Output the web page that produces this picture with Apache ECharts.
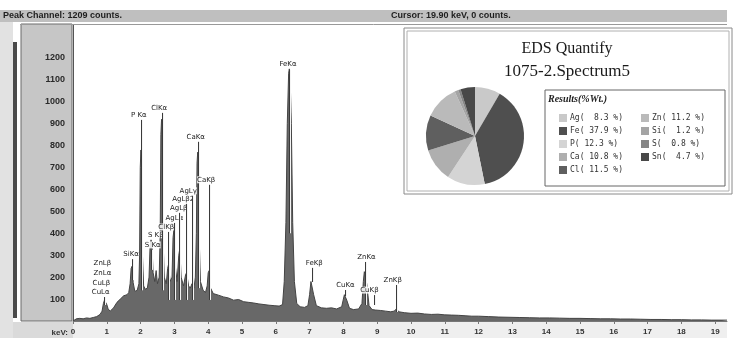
<!DOCTYPE html>
<html>
<head>
<meta charset="utf-8">
<script src="https://cdn.jsdelivr.net/npm/echarts@6/dist/echarts.min.js"></script>
<style>
  html, body { margin: 0; padding: 0; background: #fff; }
  #chart { width: 736px; height: 338px; }
</style>
</head>
<body>
<div id="chart"></div>
<script>
// EDS spectrum: [keV, counts]
const spectrum = [
  [0.0, 0], [0.05, 5], [0.1, 10], [0.2, 12], [0.3, 10], [0.4, 14], [0.5, 12], [0.6, 16],
  [0.7, 20], [0.8, 30], [0.86, 45], [0.9, 80], [0.93, 95], [0.97, 90], [1.0, 75], [1.04, 55],
  [1.1, 45], [1.2, 60], [1.3, 85], [1.4, 100], [1.5, 115], [1.6, 120], [1.65, 130],
  [1.69, 170], [1.72, 240], [1.75, 250], [1.78, 175], [1.83, 135], [1.9, 140],
  [1.95, 170], [1.97, 300], [1.99, 700], [2.01, 780], [2.03, 720], [2.05, 320], [2.09, 160],
  [2.14, 145], [2.2, 150],
  [2.25, 200], [2.28, 340], [2.31, 370], [2.34, 330], [2.37, 220], [2.42, 180], [2.46, 230],
  [2.5, 170], [2.55, 200],
  [2.58, 400], [2.60, 850], [2.62, 920], [2.64, 860], [2.66, 400], [2.7, 200], [2.76, 170],
  [2.8, 240], [2.83, 260], [2.87, 180], [2.93, 200],
  [2.96, 380], [2.99, 420], [3.02, 260], [3.08, 180],
  [3.13, 300], [3.16, 330], [3.2, 200], [3.27, 160],
  [3.33, 210], [3.36, 220], [3.42, 160], [3.47, 150],
  [3.52, 170], [3.58, 150], [3.62, 200],
  [3.65, 400], [3.67, 720], [3.69, 770], [3.71, 720], [3.73, 400], [3.77, 180], [3.85, 140], [3.92, 130],
  [3.97, 160], [4.0, 220], [4.03, 230], [4.07, 150], [4.15, 125], [4.3, 118], [4.45, 110], [4.6, 105],
  [4.75, 95], [4.9, 98], [5.05, 88], [5.2, 85], [5.35, 82], [5.5, 78], [5.65, 75], [5.8, 72],
  [5.95, 70], [6.1, 68], [6.2, 75],
  [6.25, 180], [6.3, 450], [6.34, 900], [6.38, 1130], [6.40, 1150], [6.42, 1130], [6.46, 900],
  [6.5, 450], [6.55, 180], [6.62, 80], [6.72, 65], [6.85, 62], [6.95, 70],
  [7.0, 120], [7.04, 180], [7.07, 185], [7.12, 120], [7.2, 70], [7.35, 60], [7.5, 58], [7.65, 60],
  [7.8, 55], [7.95, 65],
  [8.0, 100], [8.03, 120], [8.06, 125], [8.1, 95], [8.18, 58], [8.3, 52], [8.45, 55], [8.55, 80],
  [8.59, 180], [8.62, 225], [8.65, 230], [8.69, 170], [8.76, 70], [8.85, 52], [8.9, 60], [8.95, 50],
  [9.1, 48], [9.25, 45], [9.4, 42], [9.5, 45], [9.57, 55], [9.64, 42], [9.8, 38], [10.0, 35],
  [10.2, 36], [10.4, 32], [10.6, 30], [10.8, 31], [11.0, 28], [11.2, 27], [11.4, 26], [11.6, 24],
  [11.8, 22], [12.0, 22], [12.3, 20], [12.6, 18], [12.9, 17], [13.2, 16], [13.5, 15], [13.8, 14],
  [14.1, 14], [14.4, 13], [14.7, 12], [15.0, 12], [15.3, 11], [15.6, 10], [15.9, 10], [16.2, 9],
  [16.5, 9], [16.8, 8], [17.1, 7], [17.4, 7], [17.7, 6], [18.0, 6], [18.3, 5], [18.6, 5],
  [18.9, 4], [19.2, 4], [19.35, 4]
];

// peak markers: name, line energy, label anchor (keV / counts), line bottom (counts)
const markerNames  = ['CuLα', 'CuLβ', 'ZnLα', 'ZnLβ', 'SiKα', 'S Kα', 'S Kβ', 'P Kα', 'ClKα', 'ClKβ',
                      'AgLα', 'AgLβ', 'AgLβ2', 'AgLγ', 'CaKα', 'CaKβ', 'FeKα', 'FeKβ', 'CuKα', 'ZnKα', 'CuKβ', 'ZnKβ'];
const markerKeV    = [0.93, 0.95, 1.01, 1.03, 1.74, 2.31, 2.46, 2.01, 2.62, 2.82,
                      2.98, 3.15, 3.35, 3.52, 3.69, 4.01, 6.40, 7.06, 8.04, 8.63, 8.90, 9.57];
const markerLabelKeV = [0.82, 0.84, 0.87, 0.87, 1.72, 2.36, 2.45, 1.95, 2.55, 2.76,
                      3.00, 3.13, 3.26, 3.41, 3.63, 3.94, 6.36, 7.14, 8.06, 8.68, 8.77, 9.46];
const markerTop    = [132, 174, 218, 265, 305, 347, 393, 940, 972, 429,
                      470, 516, 557, 594, 840, 644, 1169, 265, 164, 292, 141, 187];
const markerBottom = [73, 174, 218, 265, 187, 233, 393, 140, 140, 96,
                      96, 96, 96, 96, 150, 96, 400, 178, 114, 73, 73, 41];

// quantification (% wt.)
const elements = ['Ag', 'Fe', 'P', 'Ca', 'Cl', 'Zn', 'Si', 'S', 'Sn'];
const weightPct = [8.3, 37.9, 12.3, 10.8, 11.5, 11.2, 1.2, 0.8, 4.7];
const sliceColors = ['#c9c9c9', '#4f4f4f', '#d4d4d4', '#afafaf', '#5f5f5f', '#bababa', '#a4a4a4', '#858585', '#484848'];

const xTicks = [0, 1, 2, 3, 4, 5, 6, 7, 8, 9, 10, 11, 12, 13, 14, 15, 16, 17, 18, 19];
const yTicks = [100, 200, 300, 400, 500, 600, 700, 800, 900, 1000, 1100, 1200];

const chart = echarts.init(document.getElementById('chart'), null, { renderer: 'canvas' });

const pctText = (name) => {
  const v = weightPct[elements.indexOf(name)].toFixed(1);
  return name + '(' + (v.length < 4 ? '  ' : ' ') + v + ' %)';
};

const legendBase = {
  orient: 'vertical',
  itemWidth: 8,
  itemHeight: 8,
  itemGap: 5,
  icon: 'rect',
  selectedMode: false,
  z: 30,
  textStyle: { fontFamily: 'DejaVu Sans Mono', fontSize: 8, color: '#333', padding: [0, 0, 0, -2] },
  formatter: pctText
};

const option = {
  animation: false,
  backgroundColor: '#fff',
  grid: { left: 73, right: 9, top: 25, bottom: 17, show: false },
  xAxis: {
    type: 'value', min: 0, max: 19.35,
    axisLine: { lineStyle: { color: '#777', width: 1 } },
    axisTick: { length: 3, customValues: xTicks, lineStyle: { color: '#777' } },
    axisLabel: {
      customValues: xTicks, margin: 7, color: '#333',
      fontFamily: 'Liberation Sans', fontWeight: 'bold', fontSize: 8
    },
    splitLine: { show: false }
  },
  yAxis: {
    type: 'value', min: 0, max: 1350,
    axisLine: { show: true, lineStyle: { color: '#555', width: 1 } },
    axisTick: { show: false },
    axisLabel: {
      customValues: yTicks, margin: 8, color: '#2a2a2a',
      fontFamily: 'Liberation Sans', fontWeight: 'bold', fontSize: 9,
      formatter: (v) => String(v)
    },
    splitLine: { show: false }
  },
  legend: [
    Object.assign({}, legendBase, { left: 554, top: 109, data: elements.slice(0, 5) }),
    Object.assign({}, legendBase, { left: 636, top: 109, data: elements.slice(5) })
  ],
  graphic: [
    // status bar
    { type: 'rect', shape: { x: 0, y: 10, width: 727, height: 12 }, style: { fill: '#bfbfbf' }, z: 0 },
    { type: 'text', style: { x: 3, y: 16, text: 'Peak Channel: 1209 counts.', verticalAlign: 'middle',
      font: 'bold 9px "Liberation Sans"', fill: '#1e1e1e' }, z: 1 },
    { type: 'text', style: { x: 391, y: 16, text: 'Cursor: 19.90 keV, 0 counts.', verticalAlign: 'middle',
      font: 'bold 9px "Liberation Sans"', fill: '#1e1e1e' }, z: 1 },
    { type: 'line', shape: { x1: 20, y1: 24.5, x2: 727, y2: 24.5 }, style: { stroke: '#999', lineWidth: 1 }, z: 1 },
    // left panel
    { type: 'rect', shape: { x: 0, y: 22, width: 13, height: 316 }, style: { fill: '#e2e2e2' }, z: 0 },
    { type: 'rect', shape: { x: 13, y: 42, width: 4, height: 276 }, style: { fill: '#4a4a4a' }, z: 0 },
    { type: 'rect', shape: { x: 21, y: 24, width: 51, height: 297 }, style: { fill: '#c6c6c6', stroke: '#6a6a6a', lineWidth: 1 }, z: 0 },
    { type: 'rect', shape: { x: 13, y: 322, width: 60, height: 16 }, style: { fill: '#dadada' }, z: 0 },
    { type: 'rect', shape: { x: 73, y: 322, width: 654, height: 16 }, style: { fill: '#efefef' }, z: 0 },
    { type: 'text', style: { x: 68, y: 333, text: 'keV:', align: 'right', verticalAlign: 'middle',
      font: 'bold 8px "Liberation Sans"', fill: '#333' }, z: 1 },
    // inset frame
    { type: 'rect', shape: { x: 404, y: 28, width: 328, height: 166 }, style: { fill: '#fff', stroke: '#8a8a8a', lineWidth: 1 }, z: 10 },
    { type: 'rect', shape: { x: 407, y: 31, width: 322, height: 160 }, style: { fill: 'none', stroke: '#b0b0b0', lineWidth: 1 }, z: 10 },
    { type: 'text', style: { x: 567, y: 49, text: 'EDS Quantify', align: 'center', verticalAlign: 'middle',
      font: '16px "Liberation Serif"', fill: '#1a1a1a' }, z: 30 },
    { type: 'text', style: { x: 567, y: 72, text: '1075-2.Spectrum5', align: 'center', verticalAlign: 'middle',
      font: '17px "Liberation Serif"', fill: '#1a1a1a' }, z: 30 },
    { type: 'rect', shape: { x: 545, y: 90, width: 180, height: 96 }, style: { fill: '#fff', stroke: '#666', lineWidth: 1 }, z: 20 },
    { type: 'text', style: { x: 548, y: 99, text: 'Results(%Wt.)', verticalAlign: 'middle',
      font: 'bold italic 10px "Liberation Serif"', fill: '#222' }, z: 30 }
  ],
  series: [
    {
      name: 'spectrum',
      type: 'line',
      data: spectrum,
      symbol: 'none',
      lineStyle: { color: '#444', width: 1 },
      areaStyle: { color: '#686868', opacity: 1 },
      z: 3
    },
    {
      name: 'markers',
      type: 'custom',
      data: markerKeV.map((k, i) => [k, markerTop[i], markerBottom[i], i]),
      renderItem: (params, api) => {
        const i = api.value(3);
        const top = api.coord([api.value(0), api.value(1)]);
        const bot = api.coord([api.value(0), api.value(2)]);
        const lab = api.coord([markerLabelKeV[i], api.value(1)]);
        const x = Math.round(top[0]) + 0.5;
        const children = [];
        if (bot[1] - top[1] > 6) {
          children.push({ type: 'line', shape: { x1: x + 1, y1: top[1] + 5, x2: x + 1, y2: bot[1] },
            style: { stroke: '#f4f4f4', lineWidth: 1 } });
          children.push({ type: 'line', shape: { x1: x, y1: top[1] + 5, x2: x, y2: bot[1] },
            style: { stroke: '#3a3a3a', lineWidth: 1 } });
        }
        children.push({ type: 'text', style: { x: lab[0], y: lab[1], text: markerNames[i],
          align: 'center', verticalAlign: 'middle', font: '7px "DejaVu Sans"', fill: '#222',
          backgroundColor: 'rgba(255,255,255,0.85)' } });
        return { type: 'group', children: children };
      },
      z: 5
    },
    {
      name: 'quant',
      type: 'pie',
      center: [475, 136],
      radius: 49,
      startAngle: 90,
      clockwise: true,
      label: { show: false },
      labelLine: { show: false },
      emphasis: { disabled: true },
      itemStyle: { borderWidth: 0 },
      data: elements.map((e, i) => ({ name: e, value: weightPct[i], itemStyle: { color: sliceColors[i] } })),
      z: 25
    }
  ]
};

chart.setOption(option);
</script>
</body>
</html>
